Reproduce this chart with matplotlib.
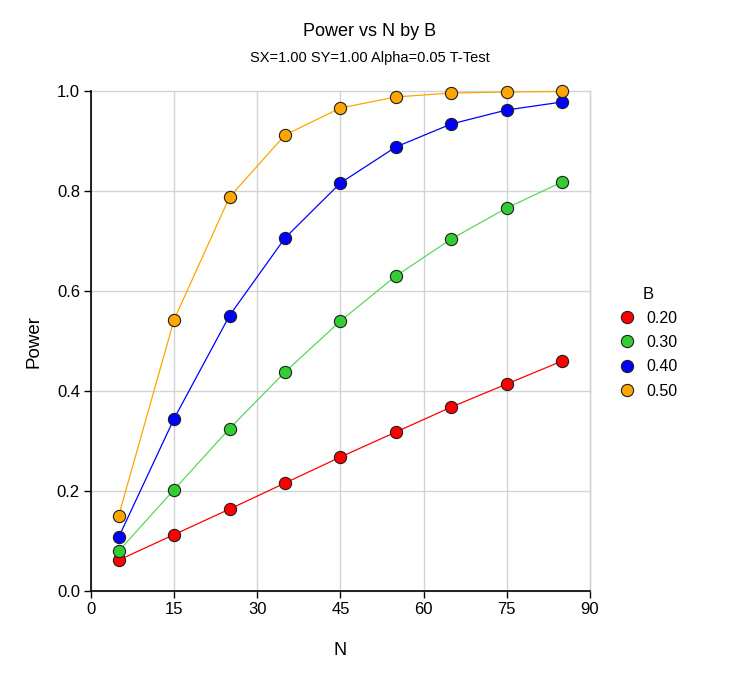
import numpy as np
import matplotlib
matplotlib.use('Agg')
import matplotlib.pyplot as plt
from matplotlib.lines import Line2D

plt.rcParams['font.family'] = ['Liberation Sans', 'DejaVu Sans']

# ── data ──────────────────────────────────────────────────────────────────────
N = [5, 15, 25, 35, 45, 55, 65, 75, 85]
B_LABELS = ["0.20", "0.30", "0.40", "0.50"]
power_b20 = [0.062, 0.113, 0.164, 0.216, 0.268, 0.318, 0.368, 0.414, 0.460]
power_b30 = [0.080, 0.203, 0.325, 0.438, 0.540, 0.630, 0.704, 0.766, 0.818]
power_b40 = [0.108, 0.345, 0.551, 0.706, 0.816, 0.888, 0.934, 0.962, 0.978]
power_b50 = [0.151, 0.543, 0.788, 0.912, 0.966, 0.988, 0.996, 0.998, 0.999]

SERIES = [power_b20, power_b30, power_b40, power_b50]
MARKER_COLORS = ['#ff0000', '#32cd32', '#0000ff', '#ffa500']
LINE_COLORS   = ['#ff0000', '#5ad75a', '#0000ff', '#ffa500']

# ── plot ──────────────────────────────────────────────────────────────────────
fig = plt.figure(figsize=(7.4, 6.74), dpi=100)
ax = fig.add_axes([0.123, 0.123, 0.674, 0.742])

handles = []
for ys, lab, mc, lc in zip(SERIES, B_LABELS, MARKER_COLORS, LINE_COLORS):
    ax.plot(N, ys, color=lc, linewidth=0.9, marker='o', markersize=8.8,
            markerfacecolor=mc, markeredgecolor='#202020', markeredgewidth=0.8,
            zorder=3, clip_on=False)
    handles.append(Line2D([], [], linestyle='none', marker='o', markersize=8.8,
                          markerfacecolor=mc, markeredgecolor='#202020',
                          markeredgewidth=0.8, label=lab))

ax.set_xlim(0, 90)
ax.set_ylim(0, 1.0)
ax.set_xticks(np.arange(0, 91, 15))
ax.set_yticks(np.arange(0, 1.01, 0.2))
ax.set_yticklabels([f"{v:.1f}" for v in np.arange(0, 1.01, 0.2)])
ax.tick_params(labelsize=12, length=5, width=1, direction='out', pad=3)
ax.grid(True, color='#d3d3d3', linewidth=1.0, clip_on=False)
ax.set_axisbelow(True)
for s in ('top', 'right'):
    ax.spines[s].set_visible(False)
for s in ('left', 'bottom'):
    ax.spines[s].set_linewidth(1.2)
# gridline on the right edge (x=90)
ax.axvline(90, color='#d3d3d3', linewidth=1.0, zorder=0.5, clip_on=False)

ax.set_xlabel("N", fontsize=13, labelpad=18)
ax.set_ylabel("Power", fontsize=13.5, labelpad=10)

fig.text(0.5, 0.954, "Power vs N by B", ha='center', va='center', fontsize=13)
fig.text(0.5, 0.914, "SX=1.00 SY=1.00 Alpha=0.05 T-Test", ha='center',
         va='center', fontsize=10.5)

ax.legend(handles=handles, title="B", loc='center left',
          bbox_to_anchor=(1.03, 0.497), frameon=False, fontsize=11.5,
          title_fontsize=12, handlelength=1.0, handletextpad=0.7,
          labelspacing=0.58)

fig.savefig("out.png", dpi=100)
